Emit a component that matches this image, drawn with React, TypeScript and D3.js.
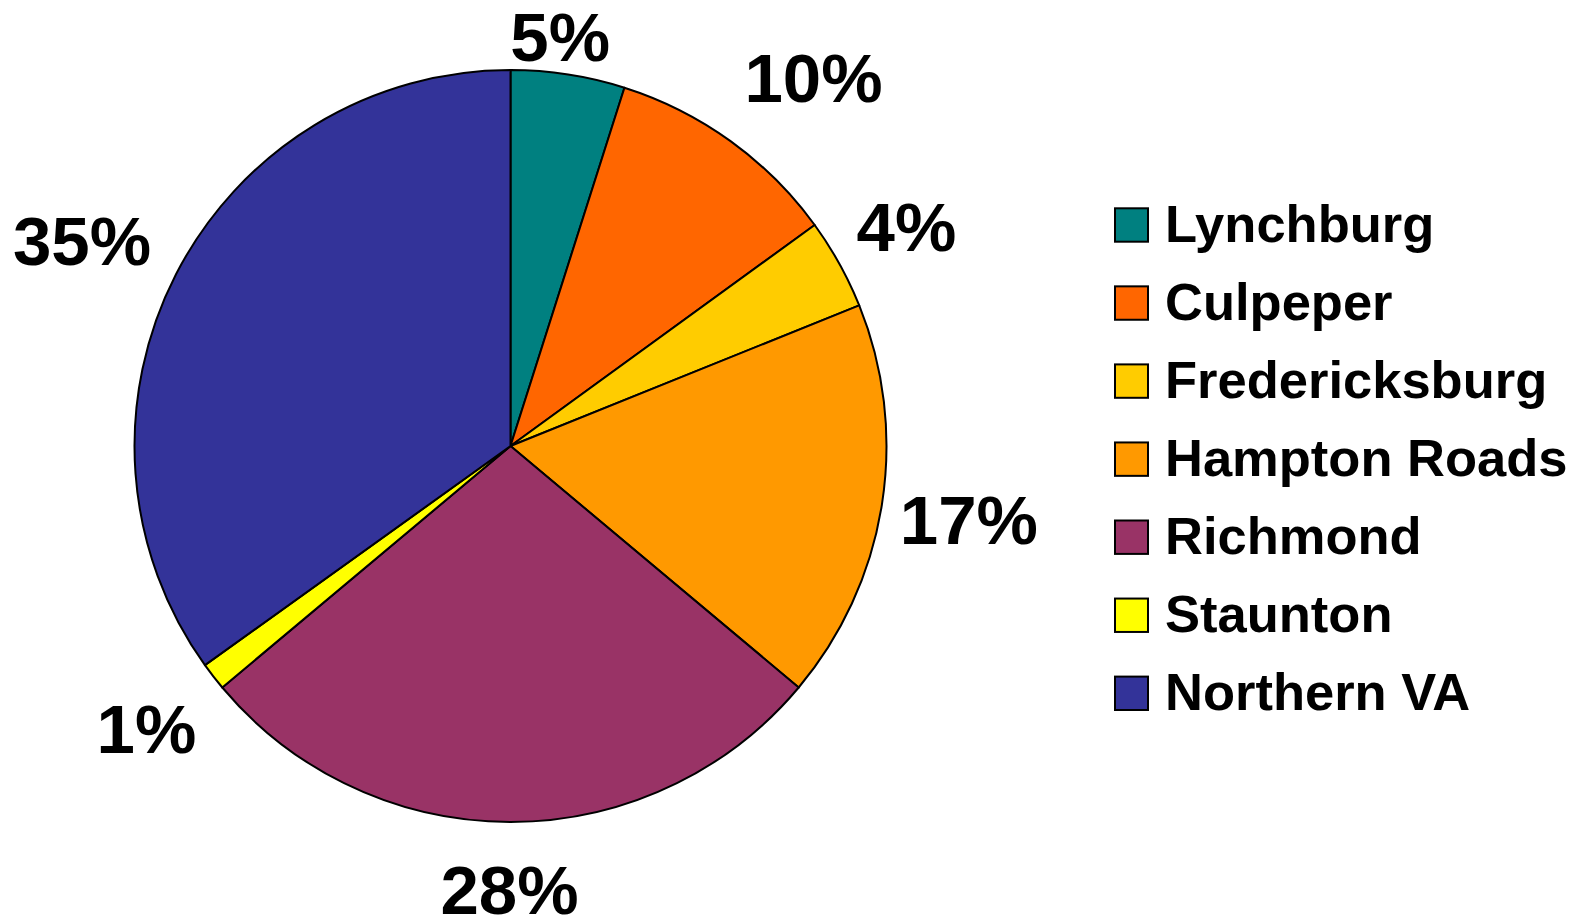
import React from 'react';
import * as d3 from 'd3';

// regions, in legend order (clockwise from 12 o'clock)
const regions = ['Lynchburg', 'Culpeper', 'Fredericksburg', 'Hampton Roads', 'Richmond', 'Staunton', 'Northern VA'];
const shares = [4.9, 10.1, 3.9, 17.2, 27.8, 1.2, 34.9];
const colors = ['#008080', '#FF6600', '#FFCC00', '#FF9900', '#993366', '#FFFF00', '#333399'];

const W = 1583;
const H = 921;
const cx = 510.5;
const cy = 446;
const radius = 376;
const labelSize = 69;
const legendSize = 52.5;
const font = '"Liberation Sans", Arial, Helvetica, sans-serif';

// where excel pushed each percent label, relative to the rim point at the slice's middle
const labelNudge: [number, number][] = [
  [-8, -38], [83, -64], [67, -38], [87, 14], [-1, 67], [-67, 52], [-94, -34],
];

export default function App() {
  const total = d3.sum(shares);
  const pct = d3.format('.0%');

  const pie = d3.pie<number>().sort(null).value(d => d).startAngle(0).endAngle(2 * Math.PI);
  const arcs = pie(shares);
  const arc = d3.arc<d3.PieArcDatum<number>>().innerRadius(0).outerRadius(radius);
  const rim = d3.arc<any>().innerRadius(radius).outerRadius(radius);

  const legendY = d3.scalePoint<string>().domain(regions).range([241.7, 710]);
  const capH = 0.716 * labelSize;

  return (
    <svg width={W} height={H} style={{ position: 'absolute', left: 0, top: 0, background: '#fff' }}>
      <g transform={`translate(${cx},${cy})`}>
        {arcs.map((a, i) => (
          <path key={regions[i]} d={arc(a) || ''} fill={colors[i]} stroke="#000" strokeWidth={2} strokeLinejoin="round" />
        ))}
        {arcs.map((a, i) => {
          const mid = (a.startAngle + a.endAngle) / 2;
          const [x, y] = rim.centroid({ startAngle: mid, endAngle: mid });
          const [nx, ny] = labelNudge[i];
          return (
            <text
              key={'l' + i}
              x={x + nx}
              y={y + ny + capH / 2}
              textAnchor="middle"
              fontFamily={font}
              fontWeight="bold"
              fontSize={labelSize}
              fill="#000"
            >
              {pct(a.value / total)}
            </text>
          );
        })}
      </g>
      <g>
        {regions.map((r, i) => {
          const y = legendY(r) as number;
          return (
            <g key={r}>
              <rect x={1115} y={y - 33.4} width={33} height={33.4} fill={colors[i]} stroke="#000" strokeWidth={2} />
              <text x={1165} y={y} fontFamily={font} fontWeight="bold" fontSize={legendSize} fill="#000">
                {r}
              </text>
            </g>
          );
        })}
      </g>
    </svg>
  );
}
